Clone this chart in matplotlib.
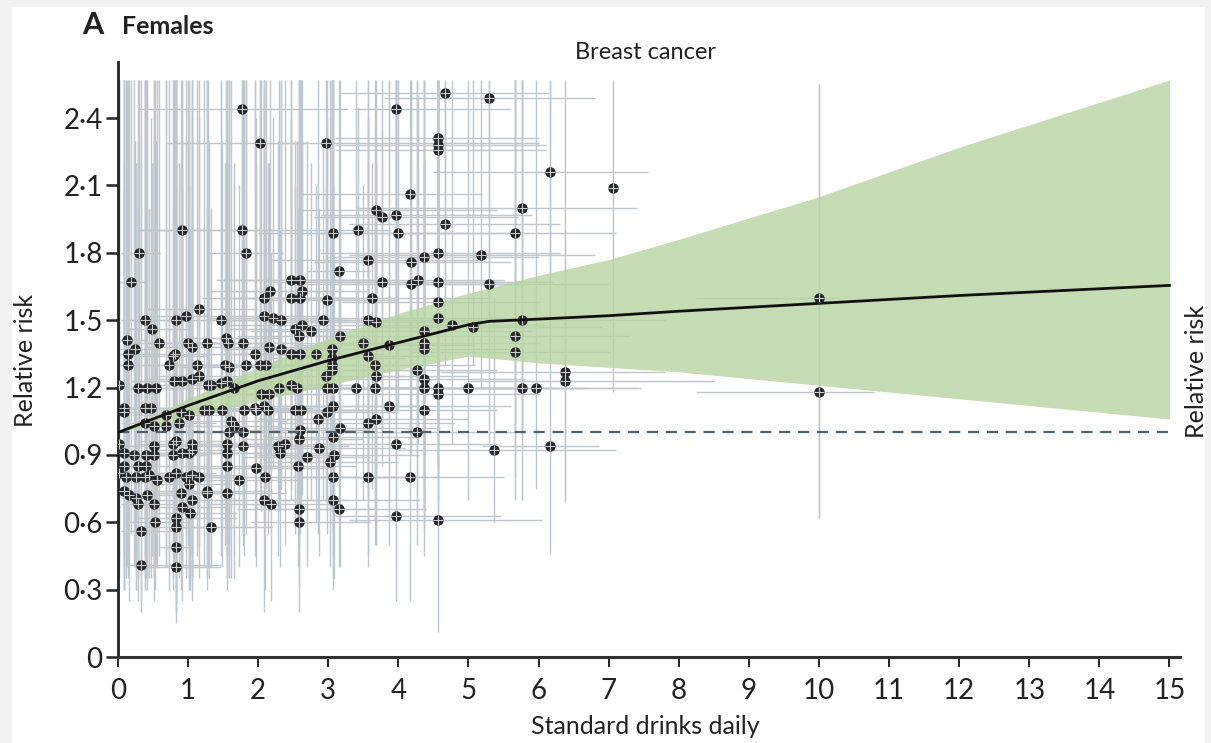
import numpy as np
import matplotlib.pyplot as plt
from matplotlib.patches import Rectangle

# police un peu étroite, repli sur Lato si absente
plt.rcParams['font.family'] = ['Liberation Sans Narrow', 'Lato', 'DejaVu Sans']

# Études : dose (verres standard / jour), risque relatif et intervalles
dose = [1.77, 2.02, 2.97, 3.97, 4.66, 5.29, 4.56, 4.56, 4.56, 4.17,
        6.17, 7.06, 5.76, 0.92, 1.77, 1.82, 0.30, 0.18, 3.07, 3.43,
        3.68, 3.77, 3.97, 4.00, 4.66, 5.67, 3.56, 3.16, 4.18, 4.37,
        4.57, 5.18, 3.77, 4.18, 4.28, 4.57, 5.29, 2.98, 3.62, 4.57,
        4.57, 2.92, 3.56, 3.68, 4.77, 5.07, 5.77, 5.67, 5.67, 4.37,
        4.37, 4.37, 3.87, 3.50, 3.17, 2.75, 2.82, 3.06, 2.63, 6.37,
        6.37, 5.76, 5.97, 5.00, 4.57, 4.57, 4.37, 4.37, 4.27, 3.67,
        3.68, 3.67, 3.40, 3.07, 3.87, 4.37, 3.68, 3.56, 3.17, 4.27,
        3.07, 3.97, 5.37, 6.17, 2.87, 2.69, 3.08, 3.03, 3.07, 3.56,
        4.17, 3.07, 3.16, 3.97, 4.57, 2.57, 2.58, 2.58, 1.97, 2.10,
        2.08, 2.19, 1.73, 1.56, 1.27, 1.27, 1.33, 0.83, 0.83, 0.83,
        0.83, 0.33, 0.33, 0.53, 1.06, 0.92, 1.03, 0.52, 0.28, 0.42,
        0.26, 0.16, 0.11, 0.26, 0.38, 0.45, 0.56, 0.73, 0.83, 0.97,
        1.06, 1.16, 1.02, 0.90, 0.52, 0.52, 0.40, 0.23, 0.28, 0.40,
        0.09, 0.09, 0.09, 0.83, 1.06, 0.78, 0.92, 1.06, 1.56, 1.56,
        1.56, 1.78, 1.78, 2.38, 2.28, 2.31, 2.58, 2.59, 2.86, 2.98,
        3.07, 2.52, 2.61, 1.97, 2.09, 2.14, 2.04, 2.16, 2.30, 2.47,
        2.56, 2.98, 2.97, 3.06, 3.06, 3.06, 3.56, 2.02, 2.11, 2.47,
        2.59, 1.95, 2.16, 2.33, 2.08, 2.21, 2.33, 2.52, 2.58, 2.17,
        2.09, 2.63, 2.47, 2.59, 2.47, 2.59,
        1.16, 0.97, 0.83, 0.39, 0.48, 1.47, 0.58, 0.13, 0.24, 0.14,
        0.14, 1.00, 1.06, 1.27, 1.54, 1.57, 1.78, 0.82, 0.78, 0.73,
        1.13, 1.52, 1.59, 1.83, 0.80, 0.92, 1.06, 1.16, 1.28, 1.33,
        1.47, 1.56, 1.66, 0.42, 0.54, 0.28, 0.09, 0.09, 0.38, 0.47,
        0.68, 0.90, 1.02, 1.23, 1.30, 1.95, 1.61, 1.66, 1.59, 0.38,
        0.52, 0.68, 0.87, 0.78, 1.02,
        1.80, 1.49, 0.02, 0.02, 0.02, 10.0, 10.0]

rr = [2.44, 2.29, 2.29, 2.44, 2.51, 2.49, 2.31, 2.28, 2.26, 2.06,
      2.16, 2.09, 2.00, 1.90, 1.90, 1.80, 1.80, 1.67, 1.89, 1.90,
      1.99, 1.96, 1.97, 1.89, 1.93, 1.89, 1.77, 1.72, 1.76, 1.78,
      1.80, 1.79, 1.67, 1.66, 1.68, 1.67, 1.66, 1.59, 1.60, 1.58,
      1.51, 1.50, 1.50, 1.49, 1.48, 1.47, 1.50, 1.43, 1.36, 1.45,
      1.40, 1.37, 1.39, 1.40, 1.43, 1.45, 1.35, 1.37, 1.48, 1.27,
      1.23, 1.20, 1.20, 1.20, 1.20, 1.17, 1.24, 1.20, 1.28, 1.30,
      1.25, 1.20, 1.20, 1.20, 1.12, 1.10, 1.06, 1.04, 1.02, 1.00,
      0.98, 0.95, 0.92, 0.94, 0.93, 0.89, 0.90, 0.87, 0.80, 0.80,
      0.80, 0.70, 0.66, 0.63, 0.61, 0.85, 0.66, 0.60, 0.84, 0.80,
      0.70, 0.68, 0.79, 0.73, 0.74, 0.73, 0.58, 0.62, 0.58, 0.49,
      0.40, 0.41, 0.56, 0.60, 0.70, 0.67, 0.64, 0.68, 0.68, 0.72,
      0.71, 0.72, 0.80, 0.80, 0.80, 0.81, 0.79, 0.80, 0.82, 0.80,
      0.81, 0.80, 0.77, 0.73, 0.94, 0.90, 0.90, 0.90, 0.85, 0.85,
      0.91, 0.85, 0.74, 0.96, 0.95, 0.90, 0.91, 0.92, 0.95, 0.91,
      0.85, 1.00, 0.94, 0.95, 0.94, 0.91, 0.97, 1.01, 1.06, 1.09,
      1.12, 1.10, 1.10, 1.10, 1.12, 1.10, 1.17, 1.17, 1.20, 1.21,
      1.20, 1.20, 1.25, 1.28, 1.30, 1.33, 1.34, 1.30, 1.30, 1.35,
      1.35, 1.35, 1.38, 1.37, 1.52, 1.51, 1.50, 1.46, 1.43, 1.63,
      1.60, 1.63, 1.60, 1.60, 1.68, 1.68,
      1.55, 1.52, 1.50, 1.50, 1.46, 1.50, 1.40, 1.41, 1.37, 1.35,
      1.30, 1.40, 1.38, 1.40, 1.42, 1.40, 1.40, 1.35, 1.34, 1.30,
      1.30, 1.30, 1.29, 1.30, 1.23, 1.23, 1.24, 1.25, 1.21, 1.21,
      1.22, 1.23, 1.20, 1.20, 1.20, 1.20, 1.11, 1.09, 1.11, 1.11,
      1.08, 1.09, 1.08, 1.10, 1.10, 1.11, 1.05, 1.03, 1.00, 1.04,
      1.03, 1.03, 1.04, 0.95, 0.91,
      1.10, 1.10, 1.21, 0.95, 0.82, 1.60, 1.18]

rr_lo = [1.20, 1.25, 1.30, 1.10, 1.45, 1.40, 1.20, 1.15, 1.10, 1.30,
         1.35, 1.18, 1.00, 0.95, 0.80, 1.00, 0.70, 0.55, 1.00, 1.10,
         1.20, 1.00, 1.20, 1.10, 1.30, 1.00, 0.90, 0.85, 0.95, 0.90,
         1.05, 1.20, 0.85, 0.90, 0.95, 1.00, 0.95, 0.85, 0.75, 0.85,
         0.80, 0.70, 0.75, 0.80, 0.95, 1.30, 0.98, 0.80, 0.70, 0.75,
         0.70, 0.65, 0.65, 0.70, 0.80, 0.70, 0.60, 0.65, 0.72, 0.69,
         0.70, 0.70, 0.75, 0.70, 0.70, 0.65, 0.60, 0.55, 0.65, 0.60,
         0.50, 0.50, 0.60, 0.55, 0.50, 0.45, 0.50, 0.45, 0.40, 0.50,
         0.45, 0.40, 0.60, 0.46, 0.45, 0.40, 0.35, 0.40, 0.35, 0.40,
         0.25, 0.30, 0.40, 0.25, 0.11, 0.40, 0.31, 0.20, 0.40, 0.30,
         0.20, 0.25, 0.40, 0.30, 0.35, 0.30, 0.40, 0.25, 0.20, 0.20,
         0.15, 0.20, 0.25, 0.30, 0.25, 0.25, 0.30, 0.25, 0.25, 0.30,
         0.30, 0.25, 0.35, 0.30, 0.30, 0.35, 0.40, 0.30, 0.30, 0.35,
         0.30, 0.35, 0.30, 0.30, 0.40, 0.35, 0.35, 0.40, 0.35, 0.35,
         0.45, 0.40, 0.30, 0.40, 0.35, 0.35, 0.40, 0.35, 0.40, 0.35,
         0.45, 0.55, 0.50, 0.50, 0.45, 0.40, 0.50, 0.55, 0.55, 0.55,
         0.60, 0.55, 0.60, 0.60, 0.60, 0.55, 0.65, 0.65, 0.65, 0.70,
         0.60, 0.65, 0.70, 0.70, 0.65, 0.70, 0.70, 0.70, 0.75, 0.75,
         0.70, 0.80, 0.80, 0.75, 0.85, 0.85, 0.80, 0.80, 0.80, 0.90,
         0.85, 0.90, 0.85, 0.90, 0.95, 0.95,
         0.60, 0.55, 0.50, 0.45, 0.45, 0.60, 0.45, 0.40, 0.40, 0.40,
         0.35, 0.50, 0.45, 0.55, 0.60, 0.50, 0.55, 0.45, 0.45, 0.40,
         0.45, 0.50, 0.45, 0.55, 0.40, 0.40, 0.45, 0.50, 0.40, 0.40,
         0.45, 0.50, 0.45, 0.35, 0.40, 0.35, 0.30, 0.30, 0.35, 0.35,
         0.40, 0.40, 0.35, 0.40, 0.35, 0.45, 0.35, 0.35, 0.35, 0.30,
         0.35, 0.40, 0.35, 0.30, 0.30,
         0.45, 0.40, 0.45, 0.40, 0.35, 0.62, 0.62]

rr_hi = [2.57, 2.57, 2.57, 2.57, 2.57, 2.57, 2.57, 2.57, 2.57, 2.57,
         2.57, 2.57, 2.57, 2.57, 2.57, 2.57, 2.57, 2.57, 2.57, 2.45,
         2.57, 2.57, 2.57, 2.57, 2.57, 2.57, 2.40, 2.57, 2.57, 2.57,
         2.57, 2.57, 2.35, 2.57, 2.50, 2.57, 2.57, 2.40, 2.20, 2.57,
         2.57, 2.30, 2.57, 2.25, 2.57, 2.57, 2.57, 2.57, 2.57, 2.57,
         2.30, 2.20, 2.57, 2.10, 2.57, 2.20, 2.10, 2.57, 2.30, 2.57,
         1.90, 2.57, 2.57, 2.57, 2.57, 2.20, 2.57, 2.00, 2.57, 2.57,
         2.20, 2.00, 2.57, 2.10, 2.57, 2.00, 1.90, 2.57, 2.00, 2.57,
         2.10, 2.57, 1.60, 2.57, 2.00, 2.30, 1.80, 2.57, 1.90, 1.90,
         1.70, 2.57, 1.60, 2.57, 2.57, 2.00, 2.57, 1.80, 2.20, 1.90,
         2.57, 1.80, 2.10, 2.40, 2.57, 2.00, 1.80, 2.57, 2.10, 2.57,
         1.90, 2.57, 2.20, 2.57, 2.40, 2.57, 1.90, 2.57, 2.30, 2.57,
         2.00, 2.57, 2.57, 2.20, 2.57, 2.00, 2.57, 1.90, 2.57, 2.30,
         2.57, 1.90, 2.10, 2.57, 2.57, 2.20, 2.57, 2.57, 2.00, 2.57,
         2.57, 2.20, 2.57, 2.57, 2.00, 2.57, 2.30, 2.57, 2.10, 2.57,
         2.00, 2.57, 2.20, 2.57, 2.30, 1.90, 2.57, 2.20, 2.57, 2.00,
         2.57, 2.10, 2.57, 2.40, 2.57, 2.20, 2.57, 2.00, 2.57, 2.57,
         2.30, 2.57, 2.10, 2.57, 2.40, 2.57, 2.20, 2.57, 2.57, 2.30,
         2.57, 2.57, 2.20, 2.57, 2.57, 2.40, 2.57, 2.30, 2.57, 2.57,
         2.50, 2.57, 2.40, 2.57, 2.57, 2.57,
         2.57, 2.57, 2.40, 2.57, 2.20, 2.57, 2.57, 2.57, 2.30, 2.57,
         2.10, 2.57, 2.30, 2.57, 2.57, 2.20, 2.57, 2.57, 2.00, 2.57,
         2.57, 2.20, 2.57, 2.57, 2.57, 2.10, 2.57, 2.40, 2.57, 2.00,
         2.57, 2.57, 2.20, 2.57, 2.30, 2.57, 2.57, 2.10, 2.57, 2.40,
         2.57, 2.20, 2.57, 2.57, 2.30, 2.57, 2.57, 2.10, 2.57, 2.57,
         2.30, 2.57, 2.20, 2.57, 2.10,
         2.57, 2.30, 2.57, 2.57, 2.57, 2.55, 2.55]

dose_lo = [0.28, 0.70, 2.30, 3.37, 3.18, 3.80, 3.10, 3.10, 3.10, 2.60,
           4.50, 7.00, 3.40, 0.28, 0.30, 1.28, 0.05, 0.02, 2.00, 3.00,
           2.60, 2.80, 2.90, 2.70, 3.30, 4.20, 2.20, 2.70, 2.80, 3.00,
           2.90, 3.30, 2.20, 2.60, 2.40, 3.10, 3.80, 2.00, 2.50, 3.20,
           3.10, 2.00, 2.60, 2.40, 3.40, 3.70, 4.30, 4.10, 4.20, 3.00,
           3.20, 3.00, 2.50, 2.30, 2.20, 1.90, 1.80, 2.10, 1.60, 4.60,
           5.00, 3.80, 4.00, 3.60, 3.10, 3.20, 3.00, 2.80, 2.90, 2.40,
           2.60, 2.20, 2.50, 2.00, 2.70, 3.10, 2.30, 2.30, 2.20, 2.90,
           2.10, 2.90, 4.00, 5.20, 2.00, 1.80, 2.00, 2.10, 2.20, 2.60,
           3.00, 2.00, 2.20, 3.10, 3.30, 1.80, 1.70, 1.90, 1.00, 1.20,
           1.30, 1.30, 1.00, 0.90, 0.50, 0.60, 0.80, 0.30, 0.40, 0.59,
           0.30, 0.16, 0.05, 0.10, 0.50, 0.40, 0.50, 0.10, 0.05, 0.10,
           0.05, 0.00, 0.00, 0.05, 0.10, 0.10, 0.20, 0.30, 0.40, 0.50,
           0.50, 0.60, 0.50, 0.40, 0.10, 0.20, 0.10, 0.05, 0.05, 0.10,
           0.00, 0.00, 0.00, 0.30, 0.50, 0.30, 0.40, 0.50, 0.90, 1.00,
           0.90, 1.10, 1.00, 1.50, 1.40, 1.60, 1.80, 1.60, 2.00, 2.10,
           2.10, 1.70, 1.80, 1.10, 1.20, 1.30, 1.20, 1.40, 1.40, 1.60,
           1.70, 2.00, 2.00, 2.20, 2.00, 2.10, 2.50, 1.10, 1.30, 1.60,
           1.70, 1.00, 1.30, 1.50, 1.20, 1.30, 1.50, 1.60, 1.70, 1.30,
           1.20, 1.80, 1.60, 1.70, 1.40, 1.50,
           0.40, 0.30, 0.30, 0.05, 0.10, 0.80, 0.10, 0.00, 0.00, 0.00,
           0.00, 0.40, 0.40, 0.60, 0.90, 0.80, 1.00, 0.30, 0.30, 0.20,
           0.50, 0.80, 0.90, 1.00, 0.20, 0.30, 0.40, 0.50, 0.60, 0.70,
           0.80, 0.90, 1.00, 0.05, 0.10, 0.00, 0.00, 0.00, 0.05, 0.10,
           0.20, 0.30, 0.40, 0.60, 0.60, 1.10, 0.90, 1.00, 0.90, 0.05,
           0.10, 0.20, 0.30, 0.30, 0.40,
           1.10, 0.80, 0.00, 0.00, 0.00, 8.25, 8.25]

dose_hi = [3.28, 2.70, 6.00, 5.60, 6.15, 6.80, 6.00, 6.10, 6.10, 5.20,
           7.56, 7.10, 7.40, 2.20, 3.00, 2.35, 0.60, 0.40, 5.00, 3.90,
           5.40, 5.70, 5.90, 5.80, 6.30, 7.10, 5.20, 3.60, 5.60, 6.00,
           6.30, 6.80, 5.80, 6.00, 5.50, 6.20, 7.00, 4.00, 5.30, 6.00,
           5.70, 3.90, 4.50, 5.00, 6.10, 6.90, 7.80, 7.30, 7.00, 5.90,
           6.00, 5.70, 5.10, 4.60, 4.10, 3.70, 3.80, 4.40, 3.50, 7.80,
           8.50, 7.46, 7.40, 6.70, 6.20, 6.00, 5.80, 5.60, 5.40, 5.10,
           5.00, 4.80, 4.50, 4.30, 5.60, 5.40, 5.00, 4.80, 4.60, 5.80,
           4.30, 5.40, 7.10, 6.86, 4.10, 3.60, 4.30, 4.00, 4.20, 4.60,
           5.50, 4.30, 4.40, 5.46, 6.05, 3.40, 3.60, 3.60, 3.00, 3.20,
           3.30, 3.20, 2.60, 2.40, 2.20, 2.00, 2.20, 1.70, 1.50, 1.07,
           1.47, 1.47, 0.90, 1.00, 1.80, 1.60, 1.70, 1.00, 0.60, 0.90,
           0.60, 0.40, 0.30, 0.60, 0.80, 1.00, 1.10, 1.30, 1.40, 1.60,
           1.80, 1.90, 1.60, 1.50, 1.20, 1.00, 0.90, 0.50, 0.60, 0.80,
           0.30, 0.30, 0.30, 1.50, 1.80, 1.30, 1.50, 1.70, 2.40, 2.20,
           2.30, 2.80, 2.60, 3.30, 3.30, 3.10, 3.50, 3.60, 3.90, 4.00,
           4.30, 3.50, 3.60, 3.00, 3.10, 3.00, 2.90, 3.00, 3.30, 3.40,
           3.50, 4.00, 4.10, 4.20, 4.00, 4.10, 4.60, 3.00, 3.10, 3.40,
           3.50, 2.90, 3.10, 3.20, 3.00, 3.20, 3.30, 3.40, 3.50, 3.00,
           3.10, 3.60, 3.40, 3.50, 3.60, 3.80,
           2.00, 1.80, 1.50, 1.00, 1.00, 2.30, 1.20, 0.40, 0.60, 0.40,
           0.40, 1.70, 1.80, 2.10, 2.30, 2.40, 2.60, 1.40, 1.30, 1.30,
           1.80, 2.30, 2.40, 2.70, 1.40, 1.60, 1.80, 1.90, 2.00, 2.10,
           2.20, 2.30, 2.40, 0.90, 1.00, 0.60, 0.30, 0.30, 0.80, 0.90,
           1.20, 1.50, 1.60, 1.90, 2.00, 2.80, 2.40, 2.30, 2.30, 0.80,
           1.00, 1.20, 1.40, 1.30, 1.60,
           2.60, 2.20, 0.10, 0.10, 0.10, 10.30, 10.78]

# Courbe dose-réponse et intervalle d'incertitude
curve_x = [0, 0.5, 1, 2, 3, 4, 5, 5.3, 6, 7, 8, 10, 12, 15]
curve_y = [1.0, 1.06, 1.12, 1.23, 1.32, 1.40, 1.48, 1.495, 1.505, 1.52, 1.54, 1.575, 1.61, 1.655]
band_x = [0, 1, 2, 3, 4, 5, 6, 7, 8, 10, 12, 15]
band_hi = [1.0, 1.15, 1.29, 1.42, 1.53, 1.62, 1.70, 1.77, 1.86, 2.05, 2.27, 2.57]
band_lo = [1.0, 1.07, 1.14, 1.21, 1.28, 1.34, 1.31, 1.29, 1.27, 1.21, 1.15, 1.06]

yticks = [0, 0.3, 0.6, 0.9, 1.2, 1.5, 1.8, 2.1, 2.4]
xticks = list(range(16))

# conversion en tableaux
x = np.array(dose)
y = np.array(rr)
xerr = [np.maximum(x - np.array(dose_lo), 0), np.maximum(np.array(dose_hi) - x, 0)]
yerr = [np.maximum(y - np.array(rr_lo), 0), np.maximum(np.array(rr_hi) - y, 0)]

fig = plt.figure(figsize=(12.11, 7.43), dpi=100)
fig.patch.set_facecolor('#f2f2f2')
fig.patches.append(Rectangle((0.01, 0), 0.985, 0.99, transform=fig.transFigure,
                             facecolor='white', edgecolor='none', zorder=-5))
ax = fig.add_axes([0.0974, 0.1157, 0.877, 0.8009])
ax.set_zorder(3)
ax.set_facecolor('none')

ax.errorbar(x, y, xerr=xerr, yerr=yerr, fmt='none', ecolor='#bfc6cc',
            elinewidth=1.0, capsize=0, zorder=1)
ax.fill_between(band_x, band_lo, band_hi, color='#b8d4a1', alpha=0.8,
                linewidth=0, zorder=2)
ax.scatter(x, y, s=56, color='#262626', zorder=3, linewidths=0)
ax.scatter(x, y, s=56, marker='+', color='#c9cdd1', linewidths=0.8, zorder=3.5)
ax.plot([0, 15], [1, 1], color='#4d6470', lw=1.6, dashes=(5, 3.5), zorder=4)
ax.plot(curve_x, curve_y, color='#111111', lw=2.0, zorder=5)

ax.set_xlim(0, 15.15)
ax.set_ylim(0, 2.65)
ax.set_xticks(xticks)
ax.set_xticklabels([str(t) for t in xticks])
ax.set_yticks(yticks)
ax.set_yticklabels(['0'] + [f'{t:.1f}'.replace('.', '·') for t in yticks[1:]])

for s in ['top', 'right']:
    ax.spines[s].set_visible(False)
ax.spines['left'].set_linewidth(2.0)
ax.spines['bottom'].set_linewidth(2.2)
ax.spines['left'].set_color('#222222')
ax.spines['bottom'].set_color('#333333')
ax.tick_params(axis='y', length=9, width=1.8, labelsize=20, pad=2, colors='#222222')
ax.tick_params(axis='x', length=7, width=1.4, labelsize=20, pad=8, colors='#222222')

fig.text(0.068, 0.967, 'A', fontsize=22, fontweight='bold', va='center', color='#222222')
fig.text(0.101, 0.965, 'Females', fontsize=18, fontweight='bold', va='center', color='#222222')
fig.text(0.533, 0.930, 'Breast cancer', fontsize=17, ha='center', va='center', color='#222222')
fig.text(0.533, 0.022, 'Standard drinks daily', fontsize=18, ha='center', va='center', color='#222222')
fig.text(0.021, 0.515, 'Relative risk', fontsize=18, rotation=90, ha='center', va='center', color='#222222')
fig.text(0.988, 0.50, 'Relative risk', fontsize=18, rotation=90, ha='center', va='center', color='#222222')

plt.savefig('out.png', dpi=100, facecolor=fig.get_facecolor())
